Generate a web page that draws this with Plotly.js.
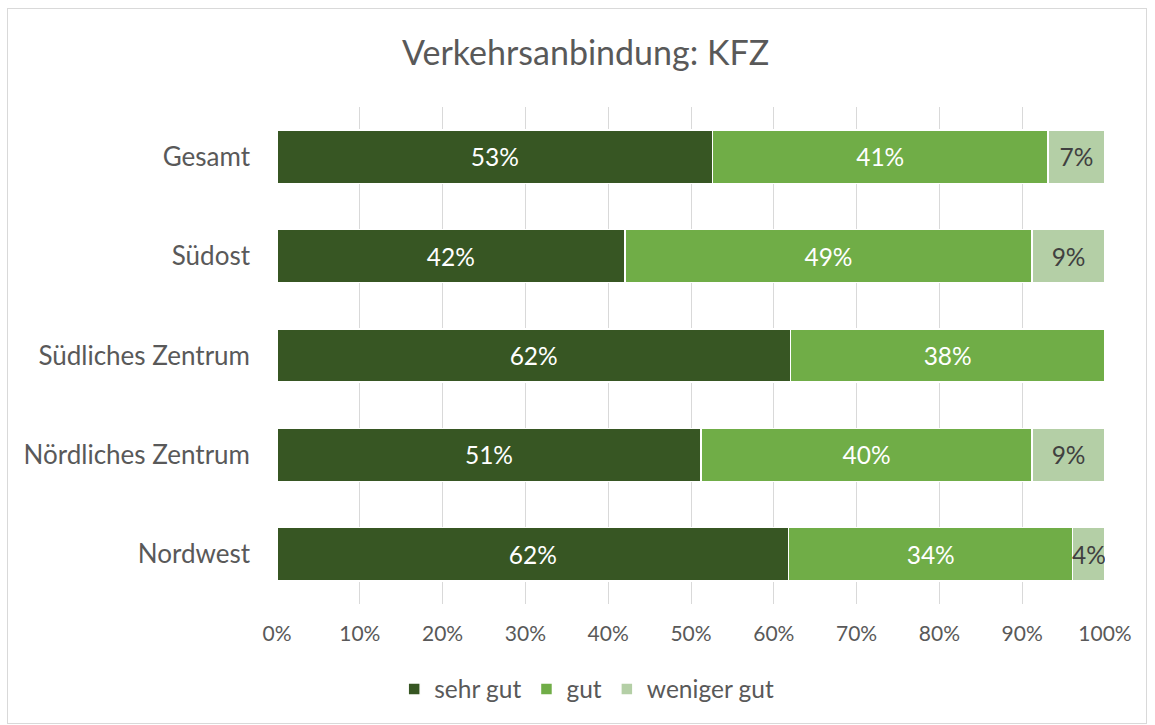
<!DOCTYPE html>
<html>
<head>
<meta charset="utf-8">
<script src="https://cdn.plot.ly/plotly-3.0.1.min.js"></script>
<style>
  html, body { margin: 0; padding: 0; background: #fff; }
  #wrap { position: relative; width: 1155px; height: 725px; }
  #chart { width: 1155px; height: 725px; }
  #frame { position: absolute; left: 7px; top: 8px; width: 1140px; height: 716px; border: 1px solid #D9D9D9; box-sizing: border-box; pointer-events: none; }
</style>
</head>
<body>
<div id="wrap">
  <div id="chart"></div>
  <div id="frame"></div>
</div>
<script>
const categories = ["Gesamt", "Südost", "Südliches Zentrum", "Nördliches Zentrum", "Nordwest"];
const seriesNames = ["sehr gut", "gut", "weniger gut"];
const sehrGut = [52.6, 42.0, 62.0, 51.2, 61.8];
const gut = [40.5, 49.2, 38.0, 40.0, 34.3];
const wenigerGut = [6.9, 8.8, 0, 8.8, 3.9];
const tickVals = [0, 10, 20, 30, 40, 50, 60, 70, 80, 90, 100];
const tickLabels = ["0%", "10%", "20%", "30%", "40%", "50%", "60%", "70%", "80%", "90%", "100%"];

const colors = ["#375623", "#70AD47", "#B4CFA6"];
const textColors = ["#FFFFFF", "#FFFFFF", "#404040"];
const FONT = "Lato, 'Open Sans', sans-serif";

function labels(vals) { return vals.map(v => v > 0 ? Math.round(v) + "%" : ""); }

const seriesValues = [sehrGut, gut, wenigerGut];
const traces = seriesValues.map((vals, i) => ({
  type: "bar",
  orientation: "h",
  name: seriesNames[i],
  y: categories,
  x: vals,
  text: labels(vals),
  textposition: "inside",
  insidetextanchor: "middle",
  constraintext: "none",
  textangle: 0,
  textfont: { family: FONT, size: 24.5, color: textColors[i] },
  marker: { color: colors[i], line: { color: "#FFFFFF", width: 1.5 } },
  hoverinfo: "skip"
}));

const layout = {
  width: 1155,
  height: 725,
  barmode: "stack",
  bargap: 0.465,
  paper_bgcolor: "#FFFFFF",
  plot_bgcolor: "#FFFFFF",
  margin: { l: 277, r: 50, t: 107, b: 121 },
  font: { family: FONT, color: "#595959" },
  title: {
    text: "Verkehrsanbindung: KFZ",
    font: { family: FONT, size: 34, color: "#595959" },
    x: 0.507, xanchor: "center", xref: "container",
    y: 0.927, yanchor: "middle", yref: "container"
  },
  xaxis: {
    range: [0, 100],
    tickvals: tickVals,
    ticktext: tickLabels,
    tickfont: { family: FONT, size: 21, color: "#595959" },
    showgrid: true,
    gridcolor: "#D9D9D9",
    gridwidth: 1,
    zeroline: false,
    showline: false,
    ticks: "",
    ticklabelstandoff: 15,
    fixedrange: true
  },
  yaxis: {
    categoryorder: "array",
    categoryarray: categories.slice().reverse(),
    tickfont: { family: FONT, size: 26, color: "#595959" },
    showgrid: false,
    zeroline: false,
    showline: false,
    ticks: "",
    ticklabelstandoff: 26,
    fixedrange: true
  },
  legend: {
    orientation: "h",
    x: 0.374, xanchor: "center",
    y: -0.171, yanchor: "middle",
    font: { family: FONT, size: 24.5, color: "#595959" },
    traceorder: "normal",
    itemwidth: 30
  },
  showlegend: true
};

Plotly.newPlot("chart", traces, layout, { displayModeBar: false, staticPlot: true });
</script>
</body>
</html>
